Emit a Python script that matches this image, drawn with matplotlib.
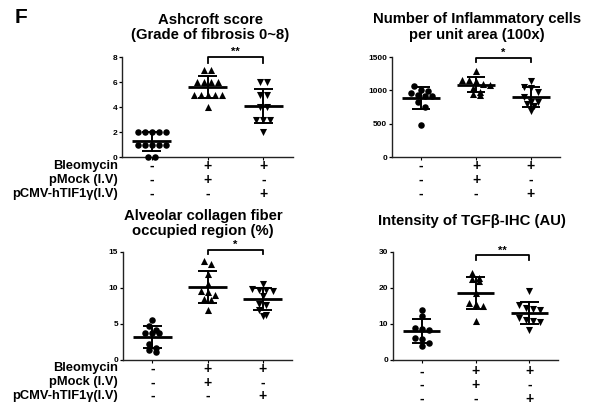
import numpy as np
import matplotlib.pyplot as plt
from matplotlib.transforms import blended_transform_factory

plt.rcParams['font.family'] = ['Liberation Sans', 'DejaVu Sans']
plt.rcParams['font.weight'] = 'bold'

row_labels = ['Bleomycin', 'pMock (I.V)', 'pCMV-hTIF1γ(I.V)']
signs = [['-', '+', '+'], ['-', '+', '-'], ['-', '-', '+']]

# values (control, bleo+pMock, bleo+pCMV)
ashcroft = [[2, 2, 2, 2, 2, 1, 1, 1, 1, 1, 0, 0],
            [7, 7, 6, 6, 6, 6, 5, 5, 5, 5, 5, 4],
            [6, 6, 5, 5, 4, 4, 3, 3, 3, 2]]
inflam = [[1070, 1000, 990, 960, 930, 920, 910, 830, 750, 480],
          [1290, 1160, 1150, 1140, 1100, 1080, 1040, 980, 940, 930],
          [1140, 1050, 1040, 980, 900, 830, 820, 800, 760, 690]]
collagen = [[5.5, 4.7, 4.1, 3.8, 3.8, 3.7, 2.2, 1.6, 1.4, 1.1],
            [13.8, 13.4, 12.0, 10.6, 9.6, 9.4, 9.0, 8.5, 8.4, 7.0],
            [10.6, 9.8, 9.7, 9.7, 9.6, 8.9, 7.8, 7.7, 6.9, 6.3, 6.1]]
tgfb = [[13.9, 12.3, 9.0, 8.5, 8.4, 6.2, 5.8, 4.8, 4.0],
        [24.2, 22.7, 22.5, 22.0, 18.5, 15.8, 15.5, 15.0, 10.9],
        [19.3, 15.2, 14.4, 14.2, 14.0, 11.8, 11.2, 10.9, 10.5, 8.4]]

W, H = 599, 405
fig = plt.figure(figsize=(W / 100, H / 100), dpi=100)

markers = ['o', '^', 'v']
msizes = [22, 26, 26]


def rect(l, r, t, b):
    return [l / W, 1 - b / H, (r - l) / W, (b - t) / H]


def swarm(ax, vals, pos, d_px=7.0):
    vals = np.asarray(vals, float)
    y_px = ax.transData.transform(np.column_stack([np.full(len(vals), pos), vals]))[:, 1]
    px_per_x = ax.transData.transform((1, 0))[0] - ax.transData.transform((0, 0))[0]
    order = np.argsort(-y_px, kind='stable')
    rows = []
    cur = [order[0]]
    for i in order[1:]:
        if y_px[cur[0]] - y_px[i] < d_px * 0.8:
            cur.append(i)
        else:
            rows.append(cur)
            cur = [i]
    rows.append(cur)
    xs = np.zeros(len(vals))
    for r in rows:
        n = len(r)
        for k, i in enumerate(r):
            xs[i] = pos + (k - (n - 1) / 2) * d_px / px_per_x
    return xs


panels = [
    dict(data=ashcroft, box=(122, 293, 57, 157), ylim=8, yticks=[0, 2, 4, 6, 8],
         br=(7.98, 7.55), star='**', title=['Ashcroft score', '(Grade of fibrosis 0~8)'],
         tpos=(210, 20, 35), labels=True, sy=(166, 180, 193.5)),
    dict(data=inflam, box=(392, 560, 57, 157), ylim=1500, yticks=[0, 500, 1000, 1500],
         br=(1485, 1420), star='*', title=['Number of Inflammatory cells', 'per unit area (100x)'],
         tpos=(477, 19, 35), labels=False, sy=(166, 180, 194)),
    dict(data=collagen, box=(123, 292, 252, 360), ylim=15, yticks=[0, 5, 10, 15],
         br=(15.3, 14.75), star='*', title=['Alveolar collagen fiber', 'occupied region (%)'],
         tpos=(203, 216, 231), labels=True, sy=(368.5, 382.5, 396)),
    dict(data=tgfb, box=(393, 558, 252, 360), ylim=30, yticks=[0, 10, 20, 30],
         br=(29.06, 27.86), star='**', title=['Intensity of TGFβ-IHC (AU)'],
         tpos=(472, 221, None), labels=False, sy=(371.5, 385, 399)),
]

for p in panels:
    ax = fig.add_axes(rect(*p['box']))
    ax.set_xlim(-0.53, 2.53)
    ax.set_ylim(0, p['ylim'])
    for s in ['top', 'right']:
        ax.spines[s].set_visible(False)
    for s in ['left', 'bottom']:
        ax.spines[s].set_linewidth(1.0)
        ax.spines[s].set_color('#222222')
    ax.set_yticks(p['yticks'])
    ax.set_xticks([0, 1, 2])
    ax.set_xticklabels([])
    ax.tick_params(axis='y', labelsize=6, length=2.5, width=0.9, pad=1)
    ax.tick_params(axis='x', length=2, width=0.8)

    for g, vals in enumerate(p['data']):
        xs = swarm(ax, vals, g)
        ax.scatter(xs, vals, marker=markers[g], s=msizes[g], color='black',
                   linewidths=0, zorder=3, clip_on=False)
        m = np.mean(vals)
        sd = np.std(vals, ddof=1)
        ax.plot([g - 0.35, g + 0.35], [m, m], color='black', lw=2.0, zorder=4,
                solid_capstyle='butt')
        ax.plot([g, g], [m - sd, m + sd], color='black', lw=1.4, zorder=4)
        for yy in (m - sd, m + sd):
            ax.plot([g - 0.17, g + 0.17], [yy, yy], color='black', lw=1.4, zorder=4,
                    solid_capstyle='butt')

    top, leg = p['br']
    ax.plot([1, 1, 2, 2], [leg, top, top, leg], color='black', lw=1.3, clip_on=False)
    ax.text(1.5, top, p['star'], ha='center', va='bottom', fontsize=8)

    cx, t1, t2 = p['tpos']
    fig.text(cx / W, 1 - t1 / H, p['title'][0], ha='center', va='center', fontsize=10.7)
    if t2 is not None:
        fig.text(cx / W, 1 - t2 / H, p['title'][1], ha='center', va='center', fontsize=10.7)

    tr = blended_transform_factory(ax.transData, fig.transFigure)
    for r in range(3):
        y = 1 - p['sy'][r] / H
        if p['labels']:
            fig.text(118 / W, y, row_labels[r], ha='right', va='center', fontsize=9.3)
        for g in range(3):
            ax.text(g, y, signs[r][g], ha='center', va='center', fontsize=10, transform=tr)

fig.text(21 / W, 1 - 17.5 / H, 'F', ha='center', va='center', fontsize=15)

fig.savefig('out.png', dpi=100)
